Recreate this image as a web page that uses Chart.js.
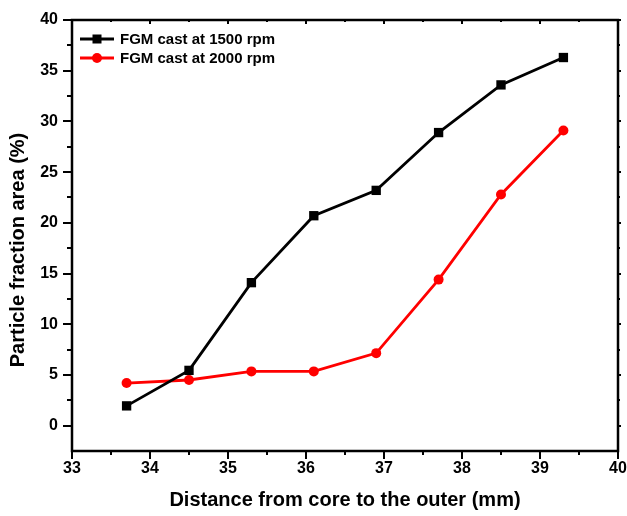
<!DOCTYPE html>
<html>
<head>
<meta charset="utf-8">
<script src="https://cdn.jsdelivr.net/npm/chart.js@4/dist/chart.umd.min.js"></script>
<style>
  html, body { margin: 0; padding: 0; background: #fff; }
  #wrap { width: 627px; height: 516px; position: relative; }
</style>
</head>
<body>
<div id="wrap"><canvas id="chart"></canvas></div>
<script>
// values
const distances = [33.7, 34.5, 35.3, 36.1, 36.9, 37.7, 38.5, 39.3];
const rpm1500 = [1.95, 5.45, 14.1, 20.7, 23.2, 28.9, 33.6, 36.3];
const rpm2000 = [4.2, 4.5, 5.35, 5.35, 7.15, 14.4, 22.8, 29.1];
const seriesLabels = ['FGM cast at 1500 rpm', 'FGM cast at 2000 rpm'];
const xTickValues = [33, 34, 35, 36, 37, 38, 39, 40];
const yTickValues = [0, 5, 10, 15, 20, 25, 30, 35, 40];
const yTitle = 'Particle fraction area (%)';

const FONT = '"Liberation Sans", Arial, sans-serif';

function points(ys) {
  return distances.map((x, i) => ({ x, y: ys[i] }));
}

// box around the plot with outward ticks on left/bottom, small ones on top/right
const frame = {
  id: 'frame',
  afterDraw(chart) {
    const { ctx, chartArea: a, scales: { x, y } } = chart;
    ctx.save();
    ctx.strokeStyle = '#000';
    ctx.lineWidth = 2.5;
    ctx.strokeRect(a.left, a.top, a.right - a.left, a.bottom - a.top);
    ctx.lineWidth = 2;
    ctx.beginPath();
    for (let v = x.min; v <= x.max + 1e-9; v += 0.5) {
      const px = Math.round(x.getPixelForValue(v));
      const major = Math.abs(v - Math.round(v)) < 1e-6;
      ctx.moveTo(px, a.bottom);
      ctx.lineTo(px, a.bottom + (major ? 8 : 4));
      ctx.moveTo(px, a.top);
      ctx.lineTo(px, a.top + (major ? 4 : 2));
    }
    for (let v = 0; v <= y.max + 1e-9; v += 2.5) {
      const py = Math.round(y.getPixelForValue(v));
      const major = v % 5 === 0;
      ctx.moveTo(a.left, py);
      ctx.lineTo(a.left - (major ? 9 : 5), py);
      ctx.moveTo(a.right, py);
      ctx.lineTo(a.right + (major ? 3 : 2), py);
    }
    ctx.stroke();

    // y axis title, sitting a little below the plot's middle as in the original
    ctx.font = 'bold 20px ' + FONT;
    ctx.fillStyle = '#000';
    ctx.textAlign = 'center';
    ctx.textBaseline = 'middle';
    ctx.translate(18, 250);
    ctx.rotate(-Math.PI / 2);
    ctx.fillText(yTitle, 0, 0);
    ctx.restore();
  }
};

// legend drawn inside the plot, top left
const insideLegend = {
  id: 'insideLegend',
  afterDraw(chart) {
    const { ctx, chartArea: a } = chart;
    ctx.save();
    ctx.font = 'bold 15px ' + FONT;
    ctx.textBaseline = 'middle';
    chart.data.datasets.forEach((ds, i) => {
      const yy = a.top + 19 + i * 19;
      const x0 = a.left + 8;
      ctx.strokeStyle = ds.borderColor;
      ctx.lineWidth = ds.borderWidth;
      ctx.beginPath();
      ctx.moveTo(x0, yy);
      ctx.lineTo(x0 + 34, yy);
      ctx.stroke();
      ctx.fillStyle = ds.pointBackgroundColor;
      if (ds.pointStyle === 'rect') {
        ctx.fillRect(x0 + 17 - 4.5, yy - 4.5, 9, 9);
      } else {
        ctx.beginPath();
        ctx.arc(x0 + 17, yy, 5, 0, Math.PI * 2);
        ctx.fill();
      }
      ctx.fillStyle = '#000';
      ctx.fillText(ds.label, x0 + 40, yy + 1);
    });
    ctx.restore();
  }
};

new Chart(document.getElementById('chart'), {
  type: 'line',
  data: {
    datasets: [
      {
        label: seriesLabels[0], data: points(rpm1500),
        borderColor: '#000', backgroundColor: '#000', pointBackgroundColor: '#000',
        pointBorderWidth: 0, borderWidth: 2.8, pointStyle: 'rect', pointRadius: 6.6
      },
      {
        label: seriesLabels[1], data: points(rpm2000),
        borderColor: '#ff0000', backgroundColor: '#ff0000', pointBackgroundColor: '#ff0000',
        pointBorderWidth: 0, borderWidth: 2.8, pointStyle: 'circle', pointRadius: 5
      }
    ]
  },
  options: {
    responsive: true,
    maintainAspectRatio: false,
    animation: false,
    layout: { padding: { top: 20, right: 9, left: 0, bottom: 0 } },
    plugins: { legend: { display: false }, tooltip: { enabled: false } },
    scales: {
      x: {
        type: 'linear', min: 33, max: 40,
        afterBuildTicks: scale => { scale.ticks = xTickValues.map(value => ({ value })); },
        afterFit: scale => {
          scale.height = 65;
          scale.paddingLeft = 0;
          scale.paddingRight = 0;
        },
        grid: { display: false, drawTicks: false }, border: { display: false },
        ticks: { color: '#000', padding: 8, font: { family: FONT, size: 16, weight: 'bold' } },
        title: {
          display: true, text: 'Distance from core to the outer (mm)', color: '#000',
          font: { family: FONT, size: 20, weight: 'bold' }, padding: { top: 0, bottom: 4 }
        }
      },
      y: {
        type: 'linear', min: -2.5, max: 40,
        afterBuildTicks: scale => { scale.ticks = yTickValues.map(value => ({ value })); },
        afterFit: scale => {
          scale.width = 72;
          scale.paddingTop = 0;
          scale.paddingBottom = 0;
        },
        grid: { display: false, drawTicks: false }, border: { display: false },
        ticks: { color: '#000', padding: 14, font: { family: FONT, size: 16, weight: 'bold' } }
      }
    }
  },
  plugins: [frame, insideLegend]
});
</script>
</body>
</html>
